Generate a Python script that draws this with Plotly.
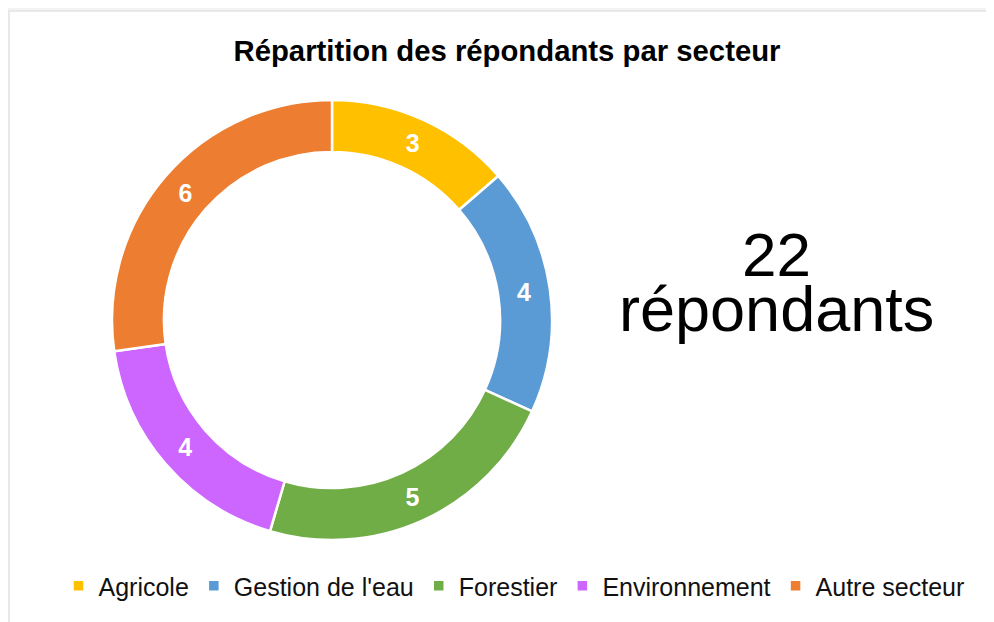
import plotly.graph_objects as go

# The page body has an 8px margin, so the figure is drawn 8px smaller and
# reference pixel positions are shifted by that offset.
OFF = 8
W, H = 994 - OFF, 622 - OFF

categories = ["Agricole", "Gestion de l'eau", "Forestier", "Environnement", "Autre secteur"]
values = [3, 4, 5, 4, 6]
colors = ["#FFC000", "#5B9BD5", "#70AD47", "#CC66FF", "#ED7D31"]
title_text = "Répartition des répondants par secteur"
total_label = str(sum(values))
total_word = "répondants"

FONT = "Arial, 'Liberation Sans', sans-serif"


def px(x):
    return (x - OFF) / W


def py(y):
    return 1 - (y - OFF) / H


# donut geometry (reference pixels)
cx, cy, R = 332, 320, 220

fig = go.Figure(go.Pie(
    labels=categories,
    values=values,
    marker=dict(colors=colors, line=dict(color="white", width=2.5)),
    hole=0.764,
    sort=False,
    direction="clockwise",
    rotation=0,
    textinfo="value",
    textposition="inside",
    insidetextorientation="horizontal",
    textfont=dict(family=FONT, size=25, color="white", weight="bold"),
    domain=dict(x=[px(cx - R), px(cx + R)], y=[py(cy + R), py(cy - R)]),
    hoverinfo="label+value",
))

fig.update_layout(
    width=W, height=H,
    margin=dict(l=0, r=0, t=0, b=0),
    paper_bgcolor="#F3F3F3",
    plot_bgcolor="white",
    title=dict(text="<b>" + title_text + "</b>", x=px(507), xanchor="center",
               y=py(51), yanchor="middle", yref="container",
               font=dict(family=FONT, size=29.3, color="black")),
    showlegend=True,
    legend=dict(orientation="h", x=px(514), xanchor="center", y=py(586), yanchor="middle",
                font=dict(family=FONT, size=25, color="#111111"), itemclick=False,
                traceorder="normal", bgcolor="rgba(0,0,0,0)"),
    shapes=[dict(type="rect", xref="paper", yref="paper", x0=px(9), x1=1.01, y0=-0.01, y1=py(11),
                 fillcolor="white", line=dict(color="#E4E4E4", width=1.5), layer="below")],
    annotations=[
        dict(text=total_label, x=px(776), y=py(255), xref="paper", yref="paper",
             xanchor="center", yanchor="middle", showarrow=False,
             font=dict(family=FONT, size=62, color="black")),
        dict(text=total_word, x=px(776), y=py(309), xref="paper", yref="paper",
             xanchor="center", yanchor="middle", showarrow=False,
             font=dict(family=FONT, size=63, color="black")),
    ],
)

fig.write_html("out.html")
